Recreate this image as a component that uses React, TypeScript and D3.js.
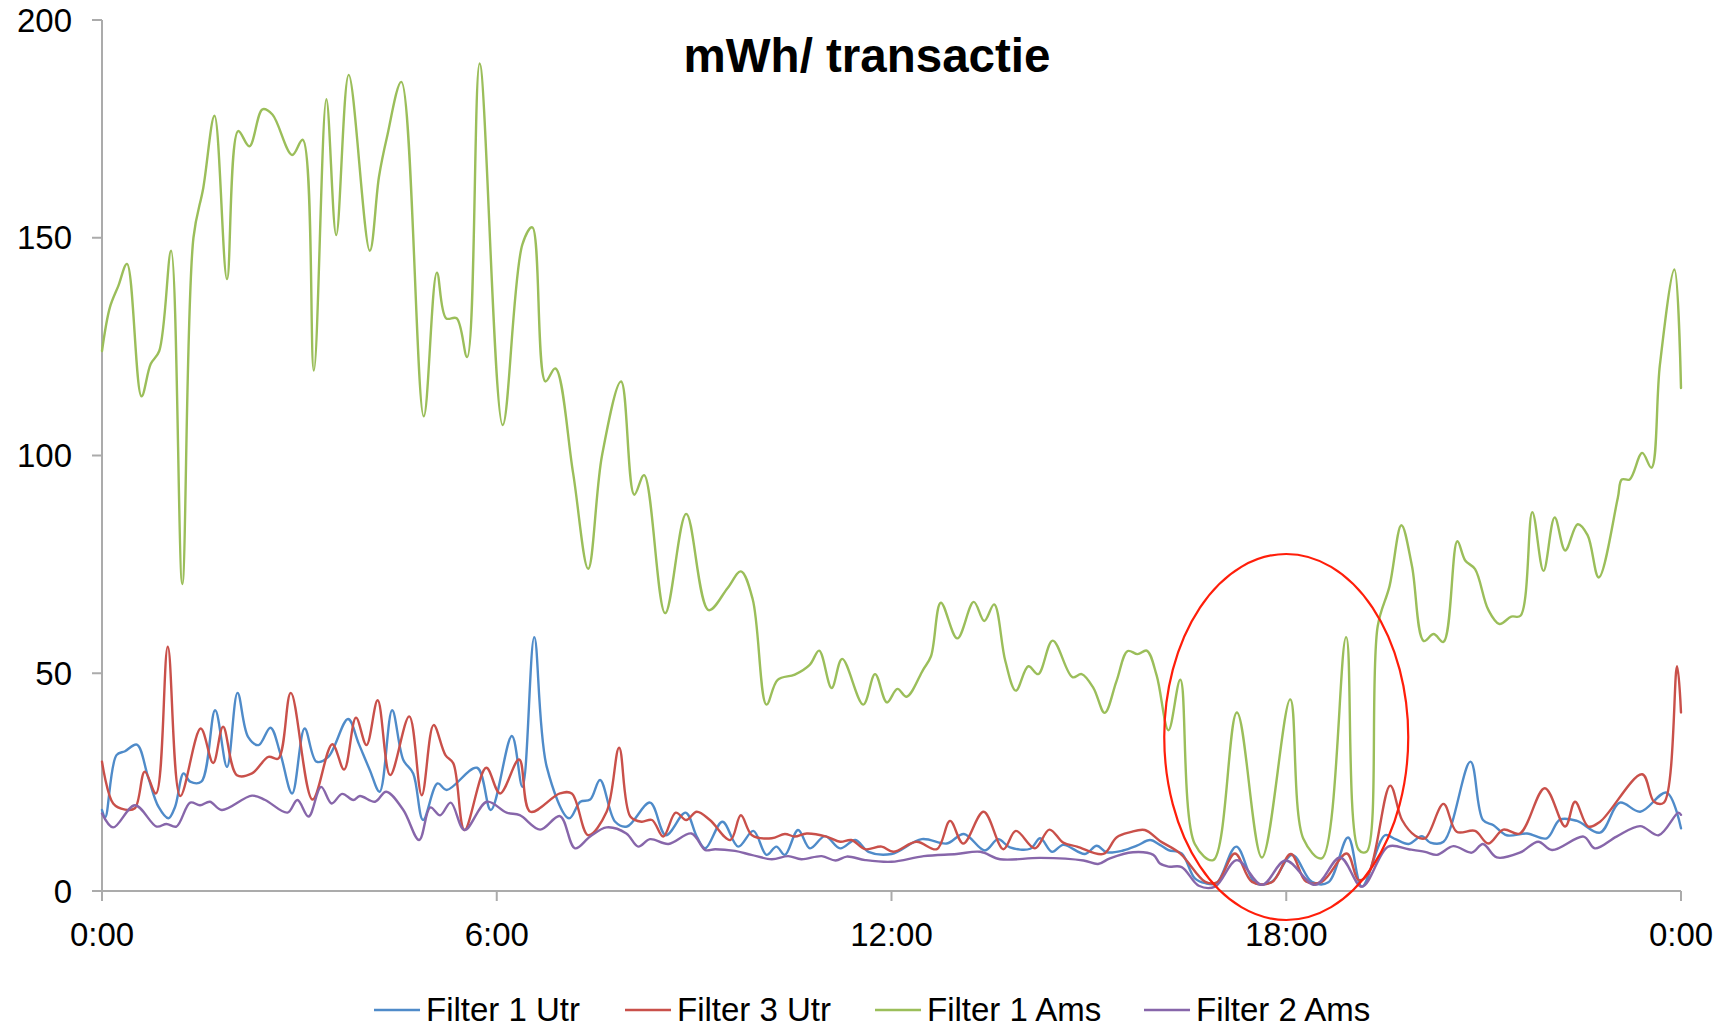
import React from "react";
import * as d3 from "d3";

const TITLE = "mWh/ transactie";
const Y_TICKS = [0, 50, 100, 150, 200];
const X_TICKS = [0, 6, 12, 18, 24];
const X_TICK_LABELS = ["0:00", "6:00", "12:00", "18:00", "0:00"];

const SERIES_NAMES = ["Filter 1 Utr", "Filter 3 Utr", "Filter 1 Ams", "Filter 2 Ams"];
const SERIES_COLORS = ["#4F8BC9", "#C9504A", "#9BBE5A", "#8766AA"];

// Filter 1 Utr (blue)
const utr1Hours = [0, 0.05, 0.22, 0.35, 0.53, 0.7, 0.86, 1.01, 1.11, 1.24, 1.34, 1.51, 1.72, 1.9, 2.06, 2.22, 2.38, 2.56, 2.71, 2.89, 3.08, 3.26, 3.44, 3.74, 3.9, 4.07, 4.22, 4.41, 4.58, 4.73, 4.88, 5.1, 5.24, 5.7, 5.91, 6.23, 6.39, 6.57, 6.76, 7.1, 7.27, 7.42, 7.57, 7.8, 7.98, 8.33, 8.57, 8.87, 9.04, 9.17, 9.43, 9.67, 9.9, 10.1, 10.25, 10.38, 10.58, 10.76, 10.99, 11.22, 11.45, 11.65, 12.0, 12.46, 12.84, 13.1, 13.42, 13.62, 13.8, 14.11, 14.26, 14.44, 14.61, 14.94, 15.12, 15.27, 15.52, 15.73, 15.93, 16.08, 16.21, 16.41, 16.61, 16.77, 16.94, 17.24, 17.53, 17.78, 18.09, 18.39, 18.64, 18.94, 19.15, 19.5, 19.66, 19.86, 20.06, 20.19, 20.39, 20.8, 20.99, 21.15, 21.35, 21.66, 21.96, 22.16, 22.42, 22.77, 23.07, 23.38, 23.78, 24];
const utr1Values = [18.6, 17, 31.2, 32.1, 33.6, 26.2, 19.3, 16.7, 19.3, 27, 25.1, 25.1, 41.5, 28.5, 45.5, 35.4, 33.5, 37.5, 31.6, 22.4, 37.3, 29.7, 30.8, 39.5, 33.9, 27.8, 22.8, 41.5, 30.1, 27, 16.3, 24.7, 23.2, 28.3, 18.6, 35.6, 23.9, 58.3, 28.5, 16.7, 20.5, 21, 25.5, 15.9, 14.8, 20.3, 12.8, 18, 12.5, 9.8, 15.9, 10.2, 13.8, 8.3, 10.2, 8.3, 14, 9.8, 12.6, 9.8, 11.7, 9, 8.5, 11.9, 10.9, 13.1, 9.3, 11.9, 10, 9.7, 12.1, 9, 10.6, 8.5, 10.4, 8.9, 9.3, 10.4, 11.7, 10.6, 9.4, 8.6, 2.9, 1.8, 1.8, 10.2, 1.8, 2.1, 8.3, 2.1, 2, 12.3, 1, 12.8, 11.9, 10.8, 12.6, 11.1, 11.3, 29.7, 16.3, 15.1, 12.8, 13.2, 12.1, 16.4, 16.1, 13.4, 20.3, 18.2, 22.6, 14.4];

// Filter 3 Utr (red)
const utr3Hours = [0, 0.17, 0.35, 0.5, 0.65, 0.82, 1.0, 1.19, 1.5, 1.69, 1.84, 2.05, 2.28, 2.53, 2.68, 2.87, 3.2, 3.5, 3.68, 3.86, 4.02, 4.19, 4.38, 4.67, 4.86, 5.04, 5.22, 5.34, 5.51, 5.84, 6.05, 6.34, 6.51, 6.96, 7.14, 7.39, 7.67, 7.86, 8.03, 8.2, 8.36, 8.53, 8.72, 8.88, 9.04, 9.24, 9.55, 9.71, 9.88, 10.18, 10.38, 10.53, 10.71, 11.01, 11.22, 11.39, 11.6, 11.85, 12.03, 12.38, 12.69, 12.89, 13.09, 13.4, 13.7, 13.89, 14.18, 14.4, 14.61, 14.82, 15.22, 15.42, 15.63, 15.85, 16.08, 16.39, 16.77, 16.95, 17.22, 17.48, 17.78, 18.07, 18.3, 18.54, 18.92, 19.1, 19.25, 19.58, 19.76, 19.96, 20.11, 20.39, 20.59, 20.87, 21.07, 21.3, 21.55, 21.93, 22.24, 22.39, 22.59, 22.77, 23.41, 23.59, 23.74, 23.94, 24];
const utr3Values = [29.7, 20.1, 18.7, 19, 27.4, 22.4, 56.1, 21.8, 37.3, 29.4, 37.7, 26.6, 27, 30.8, 30.4, 45.5, 21, 33.7, 27.9, 39.8, 33.5, 43.8, 26.6, 40.1, 22, 38.1, 31.2, 29.3, 14, 28.3, 22.4, 30.2, 18.2, 22.4, 22.4, 12.8, 18.2, 32.9, 17.1, 15.9, 16.3, 12.5, 18, 16.3, 18.2, 16.3, 11.7, 17.4, 12.8, 12.1, 13.1, 12.5, 13.2, 12.5, 11.3, 11.7, 9.6, 10.2, 9, 11.3, 9.6, 16.1, 10.9, 18.2, 9.6, 13.8, 9.8, 14.1, 11.1, 10.2, 8.5, 12.3, 13.5, 14, 11.5, 8.6, 2.1, 2, 8.6, 2.1, 2, 8.5, 2.2, 2.1, 8.6, 2.5, 4, 24.2, 16.3, 12.7, 12.1, 20, 13.6, 13.8, 10.9, 14.1, 13.2, 23.6, 14.8, 20.5, 14.8, 15.9, 26.8, 20.5, 20.3, 51.6, 41];

// Filter 1 Ams (green)
const ams1Hours = [0, 0.12, 0.25, 0.38, 0.6, 0.74, 0.87, 1.05, 1.22, 1.39, 1.54, 1.71, 1.9, 2.07, 2.24, 2.44, 2.59, 2.89, 3.05, 3.22, 3.41, 3.56, 3.75, 4.07, 4.21, 4.33, 4.55, 4.89, 5.09, 5.23, 5.39, 5.55, 5.74, 6.09, 6.39, 6.54, 6.74, 6.89, 7.16, 7.39, 7.6, 7.89, 8.09, 8.24, 8.56, 8.88, 9.22, 9.51, 9.71, 9.89, 10.1, 10.27, 10.53, 10.76, 10.9, 11.09, 11.25, 11.57, 11.75, 11.93, 12.09, 12.23, 12.48, 12.6, 12.75, 13.0, 13.25, 13.41, 13.56, 13.73, 13.89, 14.08, 14.23, 14.45, 14.75, 14.89, 15.07, 15.24, 15.42, 15.59, 15.74, 15.88, 16.03, 16.21, 16.39, 16.61, 16.89, 17.25, 17.63, 18.06, 18.26, 18.54, 18.91, 19.1, 19.22, 19.39, 19.57, 19.75, 19.91, 20.09, 20.24, 20.39, 20.6, 20.72, 20.87, 21.07, 21.24, 21.42, 21.56, 21.74, 21.91, 22.08, 22.24, 22.43, 22.58, 22.75, 23.04, 23.1, 23.22, 23.41, 23.55, 23.68, 23.9, 24];
const ams1Values = [124, 134, 139, 144, 113.6, 121, 124, 147, 70.5, 150, 161.5, 178, 140.5, 174.5, 171, 179.5, 178.3, 169, 172.5, 119.5, 181.8, 150.6, 187.4, 147, 164, 173, 185.8, 109, 142, 131.5, 131.5, 122.6, 190, 107, 148.5, 152.4, 117, 120, 96, 74, 100, 117, 91, 95.5, 63.8, 86.6, 64.5, 69.6, 73.4, 67, 42.8, 48.5, 49.7, 52, 55.2, 46.6, 53.3, 42.8, 49.8, 43.3, 46.4, 44.6, 50.8, 53.9, 66.2, 58, 66.4, 62, 65.8, 52.8, 46, 51.6, 49.8, 57.5, 49.1, 49.8, 46.6, 40.9, 48.2, 55.1, 54.4, 55.2, 49.5, 36.9, 48.5, 10.8, 7.1, 41, 7.7, 44, 12, 7.5, 58.3, 9.5, 9, 60.8, 70, 84, 74.7, 57.4, 59, 57.2, 80.3, 75.9, 73.9, 64.6, 61.3, 63, 63.2, 87, 73.5, 85.8, 78.2, 84.2, 81.7, 72, 90.3, 94.5, 94.5, 100.6, 97.2, 120.9, 142.7, 115.5];

// Filter 2 Ams (purple)
const ams2Hours = [0, 0.17, 0.5, 0.83, 0.98, 1.13, 1.34, 1.49, 1.64, 1.82, 2.28, 2.48, 2.82, 2.97, 3.14, 3.33, 3.49, 3.65, 3.82, 3.92, 4.15, 4.32, 4.58, 4.82, 4.99, 5.14, 5.3, 5.51, 5.85, 6.15, 6.35, 6.66, 6.96, 7.19, 7.42, 7.67, 7.97, 8.15, 8.33, 8.61, 8.96, 9.17, 9.32, 9.62, 9.87, 10.18, 10.43, 10.63, 10.94, 11.15, 11.32, 11.6, 12.0, 12.49, 12.99, 13.35, 13.65, 14.26, 14.92, 15.14, 15.32, 15.67, 15.98, 16.08, 16.21, 16.41, 16.67, 16.92, 17.25, 17.63, 17.99, 18.44, 18.82, 19.15, 19.55, 19.86, 20.11, 20.29, 20.54, 20.82, 20.99, 21.2, 21.55, 21.83, 22.04, 22.52, 22.69, 23.02, 23.38, 23.66, 23.96, 24];
const ams2Values = [17.8, 14.6, 19.7, 14.8, 15.4, 14.8, 20.3, 19.7, 20.5, 18.6, 21.9, 20.9, 18, 20.9, 17.1, 23.9, 20.1, 22.3, 20.9, 21.8, 20.5, 22.8, 18.6, 11.7, 19.2, 17.4, 20.3, 14, 20.5, 18, 17.4, 14.1, 17.2, 9.8, 12.5, 14.6, 13.2, 10.2, 11.9, 10.8, 13.2, 9.4, 9.6, 9.2, 8.3, 7.3, 8, 7.3, 8, 7, 7.9, 7.1, 6.7, 8, 8.5, 9, 7.3, 7.6, 7, 6.2, 7.5, 8.9, 8.3, 6.3, 5.6, 5.5, 1.2, 1, 7.1, 1.4, 7, 1.4, 7.7, 1, 10.2, 9.6, 9, 8.3, 10.3, 8.8, 10.8, 7.7, 8.8, 11.3, 9.4, 12.5, 9.8, 12.5, 14.9, 12.8, 18, 17.5];

const SERIES_HOURS = [utr1Hours, utr3Hours, ams1Hours, ams2Hours];
const SERIES_VALUES = [utr1Values, utr3Values, ams1Values, ams2Values];

const W = 1728;
const H = 1029;
const FONT = "'Liberation Sans', Arial, sans-serif";
const AXIS_COLOR = "#ABABAB";

export default function App() {
  const x = d3.scaleLinear().domain([0, 24]).range([102, 1681]);
  const y = d3.scaleLinear().domain([0, 200]).range([891, 20]);
  const line = d3
    .line<[number, number]>()
    .x((d) => x(d[0]))
    .y((d) => y(d[1]))
    .curve(d3.curveCatmullRom.alpha(0.5));

  const legendX = [374, 625, 875, 1144];
  const legendY = 1010;

  return (
    <svg
      width={W}
      height={H}
      viewBox={`0 0 ${W} ${H}`}
      style={{ position: "absolute", left: 0, top: 0, background: "#fff" }}
      fontFamily={FONT}
    >
      <rect x={0} y={0} width={W} height={H} fill="#fff" />
      {/* axes */}
      <line x1={x(0)} x2={x(0)} y1={y(200)} y2={y(0)} stroke={AXIS_COLOR} strokeWidth={2} />
      <line x1={x(0)} x2={x(24)} y1={y(0)} y2={y(0)} stroke={AXIS_COLOR} strokeWidth={2} />
      {Y_TICKS.map((t) => (
        <g key={"y" + t}>
          <line x1={x(0) - 10} x2={x(0)} y1={y(t)} y2={y(t)} stroke={AXIS_COLOR} strokeWidth={2} />
          <text x={72} y={y(t)} dy="0.35em" textAnchor="end" fontSize={33} fill="#000">
            {t}
          </text>
        </g>
      ))}
      {X_TICKS.map((t, i) => (
        <g key={"x" + i}>
          <line x1={x(t)} x2={x(t)} y1={y(0)} y2={y(0) + 10} stroke={AXIS_COLOR} strokeWidth={2} />
          <text x={x(t)} y={946} textAnchor="middle" fontSize={33} fill="#000">
            {X_TICK_LABELS[i]}
          </text>
        </g>
      ))}
      {/* series */}
      {SERIES_NAMES.map((name, i) => {
        const pts = SERIES_HOURS[i].map((h, j) => [h, SERIES_VALUES[i][j]] as [number, number]);
        return (
          <path
            key={name}
            d={line(pts) || ""}
            fill="none"
            stroke={SERIES_COLORS[i]}
            strokeWidth={2.4}
            strokeLinejoin="round"
            strokeLinecap="round"
          />
        );
      })}
      {/* title */}
      <text x={867} y={72} textAnchor="middle" fontSize={47.5} fontWeight="bold" fill="#000">
        {TITLE}
      </text>
      {/* highlight ellipse */}
      <ellipse cx={x(18)} cy={737} rx={122} ry={183} fill="none" stroke="#FF1E0A" strokeWidth={2.2} />
      {/* legend */}
      {SERIES_NAMES.map((name, i) => (
        <g key={"lg" + name}>
          <line
            x1={legendX[i]}
            x2={legendX[i] + 46}
            y1={legendY}
            y2={legendY}
            stroke={SERIES_COLORS[i]}
            strokeWidth={2.4}
          />
          <text x={legendX[i] + 52} y={legendY} dy="0.33em" fontSize={33} fill="#000">
            {name}
          </text>
        </g>
      ))}
    </svg>
  );
}
